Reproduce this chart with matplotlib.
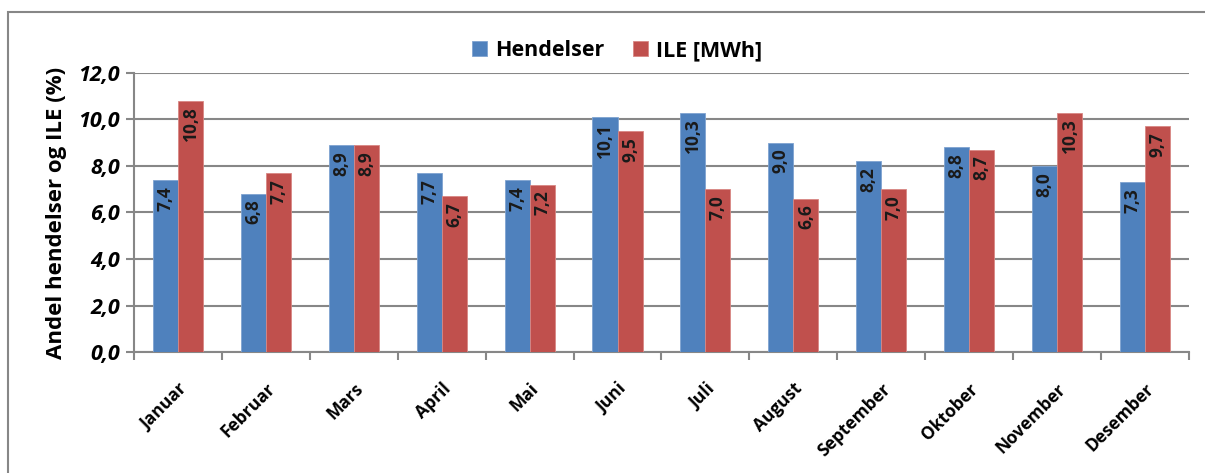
import numpy as np
import matplotlib.pyplot as plt
from matplotlib.patches import Rectangle

maaneder = ["Januar", "Februar", "Mars", "April", "Mai", "Juni", "Juli",
            "August", "September", "Oktober", "November", "Desember"]
hendelser = [7.4, 6.8, 8.9, 7.7, 7.4, 10.1, 10.3, 9.0, 8.2, 8.8, 8.0, 7.3]
ile = [10.8, 7.7, 8.9, 6.7, 7.2, 9.5, 7.0, 6.6, 7.0, 8.7, 10.3, 9.7]

blaa = "#4F81BD"
rod = "#C0504D"
graa = "#878787"

plt.rcParams['font.family'] = ['Open Sans', 'DejaVu Sans']

fig = plt.figure(figsize=(12.05, 4.73), dpi=100)
ax = fig.add_axes([0.1112, 0.2558, 0.8755, 0.5899])

# ramme rundt hele diagrammet
fig.patches.append(Rectangle((8/1205, -0.1), 1.2, 1 - 12/473 + 0.1,
                             transform=fig.transFigure, fill=False,
                             edgecolor=graa, linewidth=1.5))

x = np.arange(len(maaneder))
b = 0.285
s1 = ax.bar(x - b/2, hendelser, b, color=blaa, edgecolor="#7fa3d0", linewidth=0.6,
            label="Hendelser", zorder=3)
s2 = ax.bar(x + b/2, ile, b, color=rod, edgecolor="#d88784", linewidth=0.6,
            label="ILE [MWh]", zorder=3)

for xi, h in zip(x - b/2, hendelser):
    ax.text(xi, h - 0.25, f"{h:.1f}".replace(".", ","), rotation=90, ha="center",
            va="top", fontsize=12.5, fontweight="bold", color="#1a1a1a", zorder=4)
for xi, h in zip(x + b/2, ile):
    ax.text(xi, h - 0.25, f"{h:.1f}".replace(".", ","), rotation=90, ha="center",
            va="top", fontsize=12.5, fontweight="bold", color="#1a1a1a", zorder=4)

ax.set_xlim(-0.5, len(maaneder) - 0.5)
ax.set_ylim(0, 12)
ax.set_yticks(np.arange(0, 12.1, 2))
ax.set_yticklabels([f"{v:.1f}".replace(".", ",") for v in np.arange(0, 12.1, 2)],
                   fontsize=15.5, fontweight="bold", fontstyle="italic")
ax.yaxis.grid(True, color=graa, linewidth=1.5, zorder=0)
ax.set_axisbelow(True)

ax.set_xticks(x)
ax.set_xticklabels(maaneder, rotation=45, ha="right", rotation_mode="anchor",
                   fontsize=12.5, fontweight="bold")
ax.tick_params(axis="x", length=0, pad=20)
ax.set_xticks(np.arange(-0.5, len(maaneder), 1), minor=True)
ax.tick_params(axis="x", which="minor", length=6, width=1.5, color=graa, direction="out")
ax.tick_params(axis="y", length=6, width=1.5, color=graa, direction="out", pad=4)

for sp in ["top", "right"]:
    ax.spines[sp].set_visible(False)
for sp in ["left", "bottom"]:
    ax.spines[sp].set_color(graa)
    ax.spines[sp].set_linewidth(1.5)

ax.set_ylabel("Andel hendelser og ILE (%)", fontsize=16, fontweight="bold", labelpad=8)

fig.legend(handles=[s1, s2], loc="center", bbox_to_anchor=(0.512, 0.893), ncol=2,
           frameon=False, prop={"size": 15.5, "weight": "bold"}, handlelength=0.7,
           handleheight=0.7, handletextpad=0.4, columnspacing=1.3)

fig.savefig("out.png", dpi=100)
